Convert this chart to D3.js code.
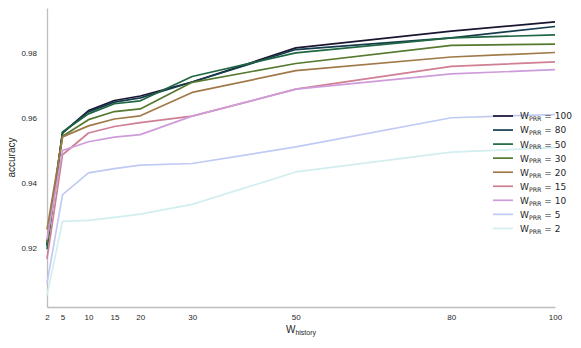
<!DOCTYPE html>
<html><head><meta charset="utf-8">
<script src="https://cdn.jsdelivr.net/npm/d3@7/dist/d3.min.js"></script>
<style>
body{margin:0;background:#fff;}
svg{display:block;}
</style></head>
<body>
<svg id="c" width="581" height="348"></svg>
<script>
const xValues = [2, 5, 10, 15, 20, 30, 50, 80, 100];
const seriesNames = [100, 80, 50, 30, 20, 15, 10, 5, 2];
const acc100 = [0.9210, 0.9553, 0.9622, 0.9653, 0.9667, 0.9710, 0.9815, 0.9867, 0.9895];
const acc80  = [0.9205, 0.9555, 0.9618, 0.9648, 0.9661, 0.9710, 0.9810, 0.9846, 0.9881];
const acc50  = [0.9195, 0.9556, 0.9612, 0.9643, 0.9652, 0.9727, 0.9800, 0.9846, 0.9855];
const acc30  = [0.9215, 0.9543, 0.9594, 0.9619, 0.9627, 0.9709, 0.9767, 0.9823, 0.9827];
const acc20  = [0.9255, 0.9541, 0.9575, 0.9596, 0.9606, 0.9678, 0.9745, 0.9787, 0.9801];
const acc15  = [0.9165, 0.9486, 0.9553, 0.9573, 0.9585, 0.9605, 0.9688, 0.9758, 0.9772];
const acc10  = [0.9225, 0.9499, 0.9526, 0.9540, 0.9548, 0.9605, 0.9688, 0.9735, 0.9748];
const acc5   = [0.9090, 0.9363, 0.9430, 0.9443, 0.9454, 0.9459, 0.9510, 0.9600, 0.9610];
const acc2   = [0.9053, 0.9281, 0.9284, 0.9293, 0.9303, 0.9333, 0.9433, 0.9494, 0.9508];
const seriesValues = [acc100, acc80, acc50, acc30, acc20, acc15, acc10, acc5, acc2];
const xTicks = [2, 5, 10, 15, 20, 30, 50, 80, 100];
const yTicks = [0.92, 0.94, 0.96, 0.98];

// matplotlib cubehelix palette (gamma=1, s=0.5, r=-1.5, h=1)
function cubehelix(t){
  const a = t*(1-t)/2, phi = 2*Math.PI*(0.5/3 - 1.5*t);
  const c = Math.cos(phi), s = Math.sin(phi);
  const f = (p0,p1)=>Math.max(0,Math.min(1,t + a*(p0*c + p1*s)));
  return d3.rgb(f(-0.14861,1.78277)*255, f(-0.29227,-0.90649)*255, f(1.97294,0)*255).formatHex();
}
const colors = seriesNames.map((d,i)=>cubehelix((i+1)/(seriesNames.length+1)));

const svg = d3.select("#c");
const L = 47, R = 555, T = 8, B = 307;
const x = d3.scaleLinear().domain([2,100]).range([L,R]);
const y = d3.scaleLinear().domain([0.9017,0.9938]).range([B,T]);
const tickFont = "'Liberation Sans', Arial, sans-serif";
const txt = "#262626";

// axes
const xa = svg.append("g").attr("transform",`translate(0,${B})`)
  .call(d3.axisBottom(x).tickValues(xTicks).tickSize(0).tickPadding(7).tickFormat(d3.format("d")));
const ya = svg.append("g").attr("transform",`translate(${L},0)`)
  .call(d3.axisLeft(y).tickValues(yTicks).tickSize(0).tickPadding(10).tickFormat(d3.format(".2f")));
[xa,ya].forEach(g=>{
  g.select(".domain").attr("stroke","#bdbdbd").attr("stroke-width",1.3);
  g.selectAll("text").attr("font-family",tickFont).attr("font-size",8).attr("fill",txt);
});

// lines
const line = d3.line().x((d,i)=>x(xValues[i])).y(d=>y(d));
seriesValues.forEach((vals,i)=>{
  svg.append("path").datum(vals).attr("d",line)
    .attr("fill","none").attr("stroke",colors[i]).attr("stroke-width",1.7)
    .attr("stroke-linejoin","round");
});

// axis labels
svg.append("text").attr("transform","translate(15,157.5) rotate(-90)")
  .attr("text-anchor","middle").attr("font-family",tickFont).attr("font-size",10)
  .attr("fill",txt).text("accuracy");
const xl = svg.append("text").attr("x",301).attr("y",333).attr("text-anchor","middle")
  .attr("font-family",tickFont).attr("font-size",10).attr("fill",txt);
xl.append("tspan").text("W");
xl.append("tspan").attr("font-size",7).attr("dy",2).text("history");

// legend
const legFont = "'DejaVu Sans', sans-serif";
const lg = svg.append("g");
seriesNames.forEach((n,i)=>{
  const yy = 116 + i*14.05;
  lg.append("line").attr("x1",493).attr("x2",513).attr("y1",yy).attr("y2",yy)
    .attr("stroke",colors[i]).attr("stroke-width",1.7);
  const t = lg.append("text").attr("x",520).attr("y",yy+3.4)
    .attr("font-family",legFont).attr("font-size",9).attr("fill",txt);
  t.append("tspan").text("W");
  t.append("tspan").attr("font-size",6.3).attr("dy",1.9).text("PRR");
  t.append("tspan").attr("dy",-1.9).text(" = " + n);
});
</script>
</body></html>
